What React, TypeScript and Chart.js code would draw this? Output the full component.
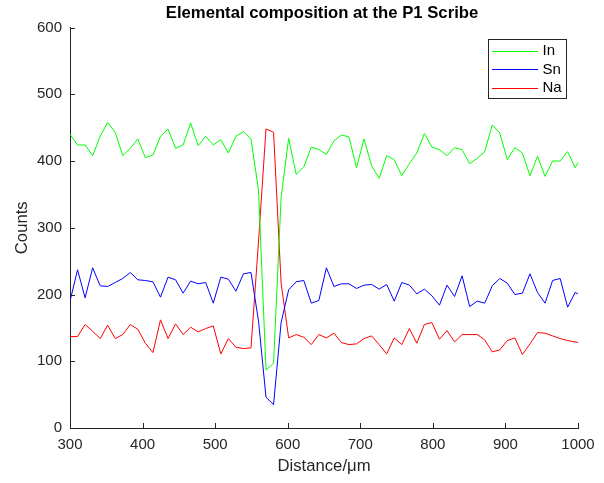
import React, { useEffect, useRef } from "react";
import { Chart, registerables } from "chart.js";

Chart.register(...registerables);

const distance = [
  300.0, 310.4, 320.8, 331.2, 341.6, 351.9, 362.3, 372.7, 383.1, 393.5,
  403.9, 414.3, 424.7, 435.1, 445.5, 455.9, 466.2, 476.6, 487.0, 497.4,
  507.8, 518.2, 528.6, 539.0, 549.4, 559.8, 570.1, 580.5, 590.9, 601.3,
  611.7, 622.1, 632.5, 642.9, 653.3, 663.7, 674.0, 684.4, 694.8, 705.2,
  715.6, 726.0, 736.4, 746.8, 757.2, 767.6, 777.9, 788.3, 798.7, 809.1,
  819.5, 829.9, 840.3, 850.7, 861.1, 871.5, 881.8, 892.2, 902.6, 913.0,
  923.4, 933.8, 944.2, 954.6, 965.0, 975.4, 985.7, 996.1, 1006.5,
];

const inCounts = [
  440, 424, 424, 408, 437, 458, 443, 408, 419, 433,
  405, 409, 437, 448, 419, 424, 457, 423, 437, 424,
  432, 412, 437, 444, 433, 356, 87, 97, 345, 434,
  380, 391, 421, 417, 410, 430, 439, 436, 390, 433,
  393, 374, 408, 402, 378, 396, 412, 441, 421, 417,
  408, 420, 417, 396, 404, 414, 454, 442, 402, 420,
  412, 378, 407, 377, 400, 400, 414, 390, 410,
];

const snCounts = [
  190, 237, 195, 240, 213, 212, 218, 224, 233, 222,
  221, 219, 196, 226, 222, 202, 220, 216, 218, 187,
  226, 223, 205, 231, 233, 160, 46, 35, 158, 207,
  219, 221, 187, 191, 240, 212, 216, 216, 209, 214,
  215, 208, 215, 190, 218, 214, 201, 208, 198, 184,
  214, 197, 228, 182, 190, 187, 213, 224, 217, 200,
  202, 231, 203, 187, 221, 224, 181, 203, 197,
];

const naCounts = [
  137, 137, 155, 145, 134, 154, 134, 140, 155, 148,
  127, 113, 162, 134, 156, 140, 151, 144, 149, 153,
  111, 134, 121, 119, 120, 280, 448, 443, 217, 135,
  140, 136, 125, 140, 135, 142, 128, 125, 126, 134,
  138, 125, 111, 135, 125, 149, 127, 155, 158, 133,
  146, 129, 140, 140, 140, 132, 114, 117, 131, 135,
  110, 126, 143, 142, 138, 134, 131, 129, 127,
];

const seriesNames = ["In", "Sn", "Na"];
const seriesColors = ["#00ff00", "#0000ff", "#ff0000"];
const xTicks = [300, 400, 500, 600, 700, 800, 900, 1000];
const yTicks = [0, 100, 200, 300, 400, 500, 600];

const titleText = "Elemental composition at the P1 Scribe";
const xLabel = "Distance/\u03bcm";
const yLabel = "Counts";

const FONT = "'Liberation Sans', Arial, Helvetica, sans-serif";
const AX = "#262626";

const innerTicks = {
  id: "innerTicks",
  afterDatasetsDraw(chart: any) {
    const { ctx, chartArea, scales } = chart;
    ctx.save();
    ctx.strokeStyle = AX;
    ctx.lineWidth = 1;
    ctx.beginPath();
    scales.x.ticks.forEach((t: any) => {
      const px = Math.round(scales.x.getPixelForValue(t.value)) + 0.5;
      ctx.moveTo(px, chartArea.bottom);
      ctx.lineTo(px, chartArea.bottom - 5);
    });
    scales.y.ticks.forEach((t: any) => {
      const py = Math.round(scales.y.getPixelForValue(t.value)) + 0.5;
      ctx.moveTo(chartArea.left, py);
      ctx.lineTo(chartArea.left + 5, py);
    });
    ctx.stroke();
    ctx.restore();
  },
};

const titleAndLegend = {
  id: "titleAndLegend",
  afterDraw(chart: any) {
    const { ctx, chartArea } = chart;
    ctx.save();
    ctx.fillStyle = "#000000";
    ctx.font = `bold 16.7px ${FONT}`;
    ctx.textAlign = "center";
    ctx.textBaseline = "middle";
    ctx.fillText(titleText, (chartArea.left + chartArea.right) / 2 - 2, 13);
    const w = 78;
    const h = 59;
    const left = chartArea.right - 12 - w;
    const top = chartArea.top + 11.5;
    ctx.fillStyle = "#ffffff";
    ctx.fillRect(left, top, w, h);
    ctx.strokeStyle = AX;
    ctx.lineWidth = 1;
    ctx.strokeRect(Math.round(left) + 0.5, Math.round(top) + 0.5, w, h);
    ctx.font = `15px ${FONT}`;
    ctx.textAlign = "left";
    chart.data.datasets.forEach((ds: any, i: number) => {
      const y = top + 11.7 + i * 18.5;
      ctx.strokeStyle = ds.borderColor;
      ctx.beginPath();
      ctx.moveTo(left + 4, Math.round(y) + 0.5);
      ctx.lineTo(left + 50, Math.round(y) + 0.5);
      ctx.stroke();
      ctx.fillStyle = "#000000";
      ctx.fillText(ds.label, left + 54.5, y + 0.5);
    });
    ctx.restore();
  },
};

export default function App() {
  const ref = useRef<HTMLCanvasElement>(null);

  useEffect(() => {
    document.body.style.margin = "0";
    const canvas = ref.current;
    if (!canvas) return;
    const series = [inCounts, snCounts, naCounts];
    const chart = new Chart(canvas, {
      type: "line",
      data: {
        datasets: series.map((vals, i) => ({
          label: seriesNames[i],
          data: vals.map((v, j) => ({ x: distance[j], y: v })),
          borderColor: seriesColors[i],
          backgroundColor: seriesColors[i],
          borderWidth: 1,
          pointRadius: 0,
          tension: 0,
          fill: false,
        })),
      },
      options: {
        animation: false,
        responsive: false,
        devicePixelRatio: 1,
        layout: { padding: { top: 27.5, right: 26, left: 0, bottom: 0 } },
        plugins: {
          legend: { display: false },
          title: { display: false },
          tooltip: { enabled: false },
        },
        scales: {
          x: {
            type: "linear",
            min: 300,
            max: 1000,
            afterBuildTicks: (s: any) => {
              s.ticks = xTicks.map((v) => ({ value: v }));
            },
            afterFit: (s: any) => {
              s.height = 55;
            },
            grid: { display: false, drawTicks: false },
            border: { display: true, color: AX, width: 1 },
            ticks: {
              autoSkip: false,
              maxRotation: 0,
              padding: 8,
              color: AX,
              font: { family: FONT, size: 15 },
              callback: (v: any) => String(v),
            },
            title: {
              display: true,
              text: xLabel,
              color: AX,
              font: { family: FONT, size: 16.7 },
              padding: { top: 0, bottom: 7 },
            },
          },
          y: {
            type: "linear",
            min: 0,
            max: 600,
            afterBuildTicks: (s: any) => {
              s.ticks = yTicks.map((v) => ({ value: v }));
            },
            afterFit: (s: any) => {
              s.width = 70;
            },
            grid: { display: false, drawTicks: false },
            border: { display: true, color: AX, width: 1 },
            ticks: {
              autoSkip: false,
              padding: 8,
              color: AX,
              font: { family: FONT, size: 15 },
              callback: (v: any) => String(v),
            },
            title: {
              display: true,
              text: yLabel,
              color: AX,
              font: { family: FONT, size: 16.7 },
              padding: { top: 12, bottom: 0 },
            },
          },
        },
      },
      plugins: [innerTicks, titleAndLegend],
    });
    return () => chart.destroy();
  }, []);

  return (
    <div style={{ position: "absolute", left: 0, top: 0, width: 604, height: 483 }}>
      <canvas ref={ref} width={604} height={483} style={{ width: 604, height: 483 }} />
    </div>
  );
}
